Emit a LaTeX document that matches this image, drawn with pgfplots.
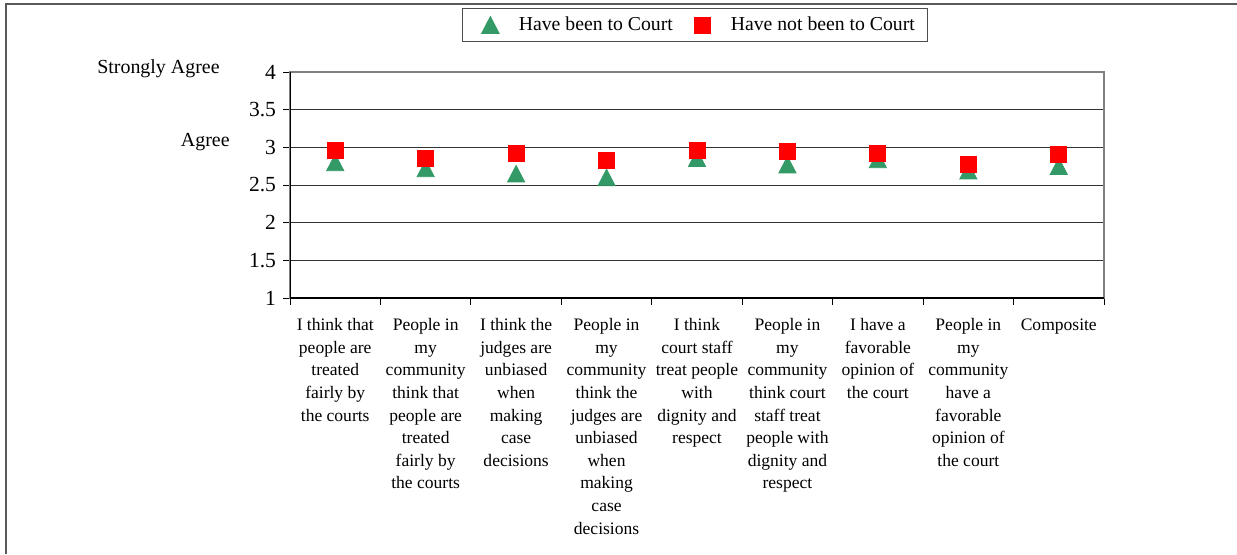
\documentclass[border=0pt]{standalone}
\usepackage{fontspec}
\setmainfont{Liberation Serif}
\usepackage{pgfplots}
\pgfplotsset{compat=1.18}
\definecolor{seagreen}{RGB}{51,153,102}
\definecolor{xlred}{RGB}{255,0,0}
\begin{document}
\begin{tikzpicture}[x=1bp,y=1bp]
\useasboundingbox (0,0) rectangle (618.5,-277);
\draw[black!65, line width=1bp] (2.75,-277) -- (2.75,-1.75) -- (618.5,-1.75);
\node[anchor=base east, inner sep=0pt, font=\fontsize{10}{12}\selectfont] at (110,-36.5) {Strongly Agree};
\node[anchor=base east, inner sep=0pt, font=\fontsize{10}{12}\selectfont] at (115,-73.3) {Agree};
\begin{axis}[
  at={(145bp,-149bp)}, anchor=south west,
  scale only axis, width=407bp, height=113bp,
  xmin=-0.5, xmax=8.5, ymin=1, ymax=4,
  ytick={1,1.5,2,2.5,3,3.5,4},
  ymajorgrids, grid style={black!80, line width=0.5bp},
  axis line style={draw=black!50, line width=0.6bp},
  xtick={0,1,2,3,4,5,6,7,8},
  xticklabels={{I think that\\people are\\treated\\fairly by\\the courts},
    {People in\\my\\community\\think that\\people are\\treated\\fairly by\\the courts},
    {I think the\\judges are\\unbiased\\when\\making\\case\\decisions},
    {People in\\my\\community\\think the\\judges are\\unbiased\\when\\making\\case\\decisions},
    {I think\\court staff\\treat people\\with\\dignity and\\respect},
    {People in\\my\\community\\think court\\staff treat\\people with\\dignity and\\respect},
    {I have a\\favorable\\opinion of\\the court},
    {People in\\my\\community\\have a\\favorable\\opinion of\\the court},
    {Composite}},
  minor xtick={-0.5,0.5,1.5,2.5,3.5,4.5,5.5,6.5,7.5,8.5},
  major x tick style={draw=none},
  tick align=outside, xtick pos=bottom, ytick pos=left,
  major tick length=3.5bp, minor tick length=3.5bp,
  tick style={black, line width=0.5bp},
  xticklabel style={align=center, anchor=north, inner sep=0pt, yshift=-6.5bp,
    font=\fontsize{8.8}{11.35}\selectfont},
  yticklabel style={font=\fontsize{10.8}{12}\selectfont},
  /pgf/number format/assume math mode=true,
  legend columns=2,
  legend style={at={(0.498,1.208)}, anchor=center, draw=black!70, line width=0.5bp,
    font=\fontsize{9.9}{11}\selectfont, inner xsep=6.5bp, inner ysep=4bp,
    nodes={inner sep=0pt},
    /tikz/every odd column/.append style={column sep=7bp},
    /tikz/every even column/.append style={column sep=7.5bp}},
  legend image code/.code={\path (0bp,0bp) (14bp,0bp); \draw[#1] plot coordinates {(7bp,0bp)};},
]
\addplot[only marks, mark=triangle*, mark size=5.5bp, color=seagreen,
  mark options={xscale=0.9, yshift=-1.375bp}] coordinates {
  (0,2.80) (1,2.72) (2,2.65) (3,2.60) (4,2.855) (5,2.77) (6,2.84) (7,2.69) (8,2.75)};
\addlegendentry{Have been to Court}
\addplot[only marks, mark=square*, mark size=4bp, color=xlred] coordinates {
  (0,2.96) (1,2.85) (2,2.92) (3,2.83) (4,2.96) (5,2.94) (6,2.92) (7,2.78) (8,2.91)};
\addlegendentry{Have not been to Court}
\draw[black, line width=0.6bp] (rel axis cs:0,1) -- (rel axis cs:0,0) -- (rel axis cs:1,0);
\end{axis}
\end{tikzpicture}
\end{document}
